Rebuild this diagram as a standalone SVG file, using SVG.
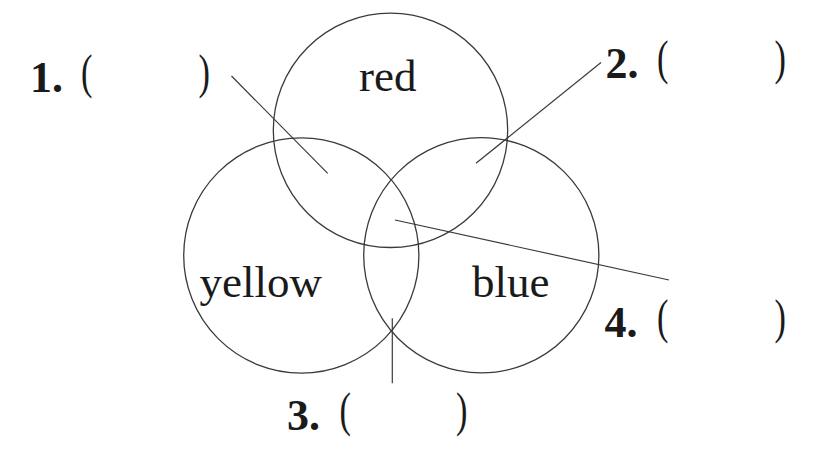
<svg xmlns="http://www.w3.org/2000/svg" width="820" height="452" viewBox="0 0 820 452">
<style>
.c{fill:none;stroke:#3a3a3a;stroke-width:1.3}
.l{stroke:#3a3a3a;stroke-width:1.2;fill:none}
.lab{font-family:"Liberation Serif","Times New Roman",serif;font-size:45px;fill:#1a1a1a}
.num{font-family:"Liberation Serif","Times New Roman",serif;font-size:44px;font-weight:bold;fill:#1a1a1a}
.par{font-family:"Liberation Serif","Times New Roman",serif;font-size:49px;fill:#1a1a1a}
</style>
<rect width="820" height="452" fill="#ffffff"/>
<g id="red"><circle class="c" cx="390.5" cy="130.3" r="117.2"/><text class="lab" x="359" y="90.7">red</text></g>
<g id="yellow"><circle class="c" cx="301.3" cy="255.5" r="117.6"/><text class="lab" x="199.5" y="296.7">yellow</text></g>
<g id="blue"><circle class="c" cx="481.3" cy="255.3" r="117.6"/><text class="lab" x="472" y="296.7">blue</text></g>
<g id="connectors">
<line class="l" x1="231.5" y1="76" x2="327.7" y2="173.3"/>
<line class="l" x1="601" y1="62.5" x2="476" y2="163.3"/>
<line class="l" x1="392.3" y1="318.3" x2="392.3" y2="383.3"/>
<line class="l" x1="395" y1="220" x2="669" y2="280"/>
</g>
<g id="label1"><text class="num" x="30" y="91.7">1.</text><text class="par" transform="translate(81,87.5) scale(0.7,1)">(</text><text class="par" transform="translate(198.5,87.5) scale(0.7,1)">)</text></g>
<g id="label2"><text class="num" x="605.5" y="78.3">2.</text><text class="par" transform="translate(657,74) scale(0.7,1)">(</text><text class="par" transform="translate(774.5,74) scale(0.7,1)">)</text></g>
<g id="label3"><text class="num" x="287" y="430">3.</text><text class="par" transform="translate(339.5,425.5) scale(0.7,1)">(</text><text class="par" transform="translate(456,425.5) scale(0.7,1)">)</text></g>
<g id="label4"><text class="num" x="604.5" y="336.7">4.</text><text class="par" transform="translate(657,333) scale(0.7,1)">(</text><text class="par" transform="translate(774.5,333) scale(0.7,1)">)</text></g>
</svg>
